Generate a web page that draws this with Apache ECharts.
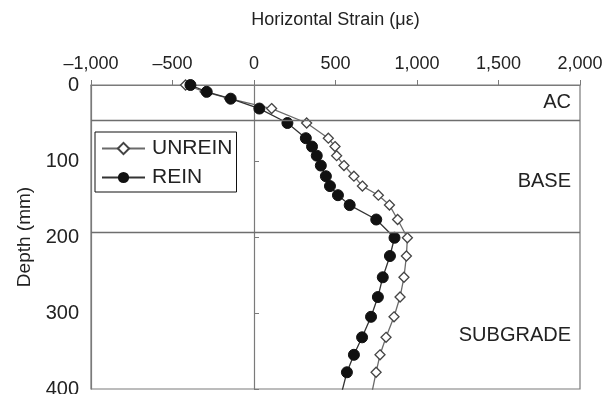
<!DOCTYPE html>
<html>
<head>
<meta charset="utf-8">
<script src="https://cdn.jsdelivr.net/npm/echarts@6/dist/echarts.min.js"></script>
<style>
html,body{margin:0;padding:0;background:#fff;}
#chart{width:604px;height:394px;}
</style>
</head>
<body>
<div id="chart"></div>
<script>
// Data (last point lies just below the visible frame)
const depths = [0, 9, 18, 31, 50, 70, 81, 93, 106, 120, 133, 145, 158, 177, 201, 225, 253, 279, 305, 332, 355, 378, 403];
const unreinStrain = [-420, -300, -150, 108, 323, 456, 497, 507, 552, 613, 665, 763, 831, 881, 941, 935, 920, 896, 859, 810, 773, 749, 725];
const reinStrain = [-390, -290, -143, 33, 205, 318, 356, 385, 410, 441, 466, 515, 587, 750, 862, 834, 790, 760, 718, 663, 613, 570, 540];
const seriesNames = ['UNREIN', 'REIN'];
const layerNames = ['AC', 'BASE', 'SUBGRADE'];
const layerBounds = [0, 47, 194, 400];
const xTitle = 'Horizontal Strain (\u03bc\u03b5)';
const yTitle = 'Depth (mm)';

const FONT = "'Liberation Sans', Arial, Helvetica, sans-serif";
const pairs = (xs) => xs.map((x, i) => [x, depths[i]]);
const fmt = (v) => (v < 0 ? '\u2013' : '') + Math.abs(v).toLocaleString('en-US');

const chart = echarts.init(document.getElementById('chart'), null, {renderer: 'canvas'});
chart.setOption({
  animation: false,
  backgroundColor: '#fff',
  textStyle: {fontFamily: FONT},
  grid: {left: 91, right: 24, top: 85, bottom: 5, containLabel: false, outerBoundsMode: 'none',
         show: true, borderColor: '#7a7a7a', borderWidth: 1.2, backgroundColor: 'transparent'},
  xAxis: {
    type: 'value', position: 'top', min: -1000, max: 2000, interval: 500,
    name: xTitle, nameLocation: 'middle', nameGap: 56,
    nameTextStyle: {fontSize: 18, color: '#222', fontFamily: FONT},
    axisLine: {show: true, onZero: false, lineStyle: {color: '#7a7a7a', width: 1.2}},
    axisTick: {show: true, length: 5, lineStyle: {color: '#7a7a7a'}},
    axisLabel: {fontSize: 18, color: '#222', margin: 12, formatter: fmt, fontFamily: FONT},
    splitLine: {show: false}
  },
  yAxis: [{
    type: 'value', inverse: true, min: 0, max: 400, interval: 100,
    name: yTitle, nameLocation: 'middle', nameGap: 57, nameRotate: 90,
    nameTextStyle: {fontSize: 19, color: '#222', fontFamily: FONT},
    axisLine: {show: true, onZero: false, lineStyle: {color: '#7a7a7a', width: 1.2}},
    axisTick: {show: false},
    axisLabel: {fontSize: 20, color: '#222', margin: 12, fontFamily: FONT},
    splitLine: {show: false}
  }, {
    type: 'value', inverse: true, min: 0, max: 400, interval: 100,
    axisLine: {show: true, onZero: true, lineStyle: {color: '#7a7a7a', width: 1.2}},
    axisTick: {show: true, length: 5, lineStyle: {color: '#7a7a7a'}},
    axisLabel: {show: false},
    splitLine: {show: false}
  }],
  legend: {
    orient: 'vertical', left: 95, top: 132,
    data: seriesNames,
    backgroundColor: '#fff', borderColor: '#111', borderWidth: 1,
    padding: [6, 4, 4, 6], itemGap: 8, itemWidth: 43, itemHeight: 14,
    textStyle: {fontSize: 21, color: '#222', fontFamily: FONT, lineHeight: 21, padding: [0, 0, 0, 2]}
  },
  series: [{
    name: seriesNames[0], type: 'line', data: pairs(unreinStrain), yAxisIndex: 0,
    symbol: 'diamond', symbolSize: 10, clip: true,
    lineStyle: {color: '#6a6a6a', width: 1.3},
    itemStyle: {color: '#fff', borderColor: '#444', borderWidth: 1.3},
    z: 3,
    markLine: {
      silent: true, symbol: 'none', label: {show: false},
      lineStyle: {color: '#6e6e6e', width: 1.4, type: 'solid'},
      data: [{yAxis: layerBounds[1]}, {yAxis: layerBounds[2]}]
    },
    markArea: {
      silent: true, itemStyle: {color: 'rgba(0,0,0,0)'},
      label: {position: 'insideRight', fontSize: 20, color: '#222', fontFamily: FONT, distance: 9},
      data: [
        [{name: layerNames[0], yAxis: layerBounds[0]}, {yAxis: layerBounds[1]}],
        [{name: layerNames[1], yAxis: layerBounds[1], label: {offset: [0, 5]}}, {yAxis: layerBounds[2]}],
        [{name: layerNames[2], yAxis: layerBounds[2], label: {offset: [0, 25]}}, {yAxis: layerBounds[3]}]
      ]
    }
  }, {
    name: seriesNames[1], type: 'line', data: pairs(reinStrain), yAxisIndex: 0,
    symbol: 'circle', symbolSize: 11, clip: true,
    lineStyle: {color: '#333', width: 1.3},
    itemStyle: {color: '#111', borderColor: '#111'},
    z: 4
  }]
});
</script>
</body>
</html>
